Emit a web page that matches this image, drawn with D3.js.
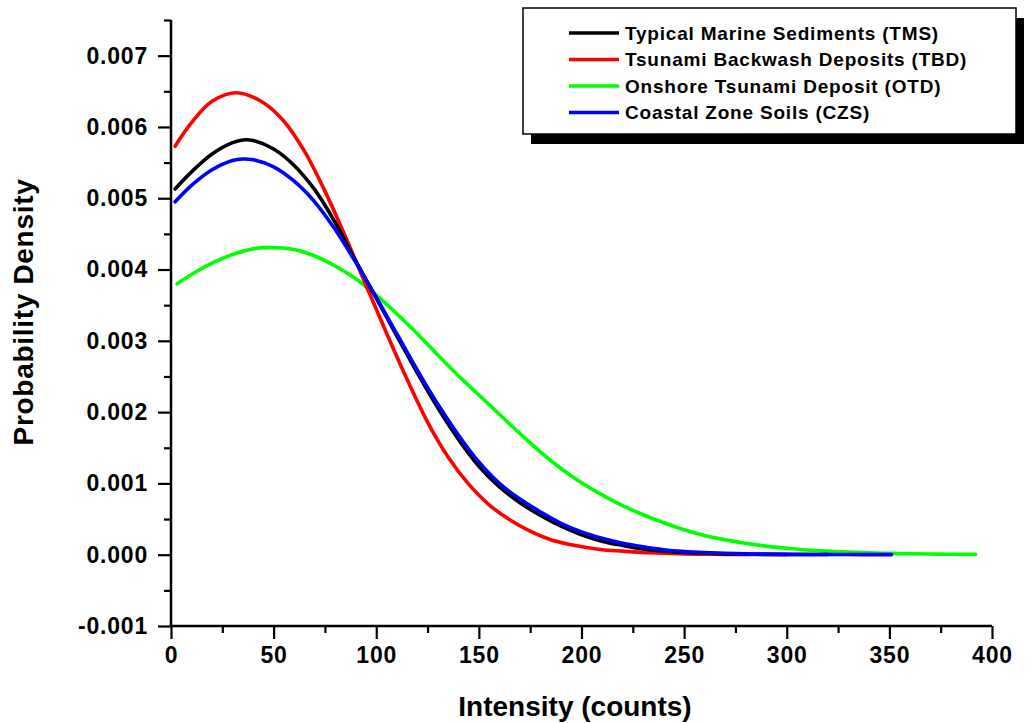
<!DOCTYPE html>
<html>
<head>
<meta charset="utf-8">
<script src="https://cdn.jsdelivr.net/npm/d3@7"></script>
<style>
  html, body { margin: 0; padding: 0; background: #fff; }
  svg { display: block; }
  text { font-family: "Liberation Sans", Arial, sans-serif; font-weight: bold; fill: #000; }
</style>
</head>
<body>
<svg id="chart" width="1031" height="723"></svg>
<script>
// ---- Data ----
const seriesNames = [
  "Typical Marine Sediments (TMS)",
  "Tsunami Backwash Deposits (TBD)",
  "Onshore Tsunami Deposit (OTD)",
  "Coastal Zone Soils (CZS)"
];
const seriesColors = ["#000000", "#ff0000", "#00ff00", "#0000ff"];

const tmsX = [2,10,20,30,36,40,50,60,70,80,90,100,110,120,130,140,150,160,170,180,190,200,210,220,230,240,250,260,270,290,320];
const tmsY = [0.00513,0.00537,0.00562,0.00578,0.00582,0.00581,0.00569,0.00546,0.00512,0.00466,0.00412,0.00360,0.00307,0.00255,0.00206,0.00162,0.00124,0.00095,0.00073,0.00055,0.00040,0.00028,0.00019,0.00013,0.00008,0.00005,0.00003,0.00002,0.00001,0.000005,0.000002];

const tbdX = [2,10,20,32,45,55,65,75,85,95,105,115,125,135,145,155,165,175,185,195,210,220,230,240,250,270,300];
const tbdY = [0.00573,0.00606,0.00636,0.00648,0.00634,0.00608,0.00566,0.00510,0.00446,0.00378,0.00311,0.00246,0.00186,0.00137,0.00099,0.00070,0.00049,0.00033,0.00021,0.00014,0.00007,0.00005,0.00003,0.00002,0.00001,0.000005,0.000002];

const otdX = [3,10,20,30,40,49,60,70,80,90,100,110,120,130,140,150,160,170,180,190,200,210,220,230,240,250,260,270,280,290,300,310,320,330,340,350,360,370,380,392];
const otdY = [0.00380,0.00393,0.00409,0.00421,0.00429,0.00431,0.00428,0.00419,0.00405,0.00387,0.00364,0.00338,0.00310,0.00280,0.00251,0.00224,0.00197,0.00170,0.00144,0.00121,0.00101,0.00084,0.00069,0.00056,0.00045,0.00035,0.00027,0.00021,0.00016,0.00012,0.00009,0.000065,0.00005,0.000036,0.000026,0.000019,0.000013,0.000009,0.000006,0.000004];

const czsX = [2,10,20,30,35,40,50,60,70,80,90,100,110,120,130,140,150,160,170,180,190,200,210,220,230,240,250,260,280,300,330,351];
const czsY = [0.00495,0.00518,0.00540,0.00553,0.00555,0.00554,0.00544,0.00524,0.00495,0.00456,0.00410,0.00361,0.00310,0.00259,0.00211,0.00168,0.00130,0.00100,0.00078,0.00060,0.00044,0.00032,0.00023,0.00016,0.00011,0.00007,0.000045,0.00003,0.000012,0.000005,0.000002,0.000001];

const xTickValues = [0,50,100,150,200,250,300,350,400];
const yTickValues = [-0.001,0,0.001,0.002,0.003,0.004,0.005,0.006,0.007];
const yTickLabels = ["-0.001","0.000","0.001","0.002","0.003","0.004","0.005","0.006","0.007"];
const xTitle = "Intensity (counts)";
const yTitle = "Probability Density";

// ---- Drawing ----
const svg = d3.select("#chart");
const x = d3.scaleLinear().domain([0, 400]).range([171, 992]);
const y = d3.scaleLinear().domain([-0.001, 0.0075]).range([626, 20]);

const series = [
  { name: seriesNames[0], color: seriesColors[0], xs: tmsX, ys: tmsY },
  { name: seriesNames[1], color: seriesColors[1], xs: tbdX, ys: tbdY },
  { name: seriesNames[2], color: seriesColors[2], xs: otdX, ys: otdY },
  { name: seriesNames[3], color: seriesColors[3], xs: czsX, ys: czsY }
];

const line = d3.line()
  .x(d => x(d[0]))
  .y(d => y(d[1]))
  .curve(d3.curveCatmullRom.alpha(0.5));

// draw order: green, red, black, blue
const drawOrder = [2, 1, 0, 3];
drawOrder.forEach(i => {
  const s = series[i];
  svg.append("path")
    .datum(d3.zip(s.xs, s.ys))
    .attr("fill", "none")
    .attr("stroke", s.color)
    .attr("stroke-width", 3.6)
    .attr("stroke-linejoin", "round")
    .attr("stroke-linecap", "round")
    .attr("d", line);
});

// Axes
const xMinor = d3.range(25, 400, 50);
const yMinor = d3.range(-0.0005, 0.0076, 0.001);

const xAxisG = svg.append("g").attr("transform", `translate(0,${y(-0.001)})`);
xAxisG.call(d3.axisBottom(x).tickValues(xTickValues).tickSize(13).tickPadding(8).tickFormat(d3.format("d")));
xAxisG.append("g").call(d3.axisBottom(x).tickValues(xMinor).tickSize(7).tickFormat(""))
  .select(".domain").remove();

const yAxisG = svg.append("g").attr("transform", `translate(${x(0)},0)`);
yAxisG.call(d3.axisLeft(y).tickValues(yTickValues).tickSize(13).tickPadding(10)
  .tickFormat((d, i) => yTickLabels[i]));
yAxisG.append("g").call(d3.axisLeft(y).tickValues(yMinor).tickSize(7).tickFormat(""))
  .select(".domain").remove();

[xAxisG, yAxisG].forEach(g => {
  g.selectAll(".domain").attr("stroke", "#000").attr("stroke-width", 2.5);
  g.selectAll(".tick line").attr("stroke", "#000").attr("stroke-width", 2.2);
  g.selectAll(".tick text")
    .style("font-family", "'Liberation Sans', Arial, sans-serif")
    .style("font-weight", "bold")
    .style("font-size", "23px")
    .style("letter-spacing", "0.8px")
    .attr("fill", "#000");
});
xAxisG.selectAll(".domain").attr("d", `M${x(0)},0H${x(400)}`);
yAxisG.selectAll(".domain").attr("d", `M0,${y(-0.001)}V${y(0.0075)}`);

// Axis titles
svg.append("text")
  .attr("x", 575).attr("y", 716)
  .attr("text-anchor", "middle")
  .style("font-size", "28px")
  .text(xTitle);

svg.append("text")
  .attr("transform", "translate(33,312) rotate(-90)")
  .attr("text-anchor", "middle")
  .style("font-size", "28px")
  .style("letter-spacing", "0.7px")
  .text(yTitle);

// Legend
const lg = svg.append("g");
lg.append("rect").attr("x", 531).attr("y", 18).attr("width", 493).attr("height", 126).attr("fill", "#000");
lg.append("rect").attr("x", 523).attr("y", 8).attr("width", 493).attr("height", 126)
  .attr("fill", "#fff").attr("stroke", "#000").attr("stroke-width", 1.5);
const rowY = [33, 59.5, 86, 112.5];
series.forEach((s, i) => {
  lg.append("line")
    .attr("x1", 569).attr("x2", 619)
    .attr("y1", rowY[i]).attr("y2", rowY[i])
    .attr("stroke", s.color).attr("stroke-width", 3.5);
  lg.append("text")
    .attr("x", 625).attr("y", rowY[i] + 6.5)
    .style("font-size", "19px")
    .style("letter-spacing", "0.8px")
    .text(s.name);
});
</script>
</body>
</html>
